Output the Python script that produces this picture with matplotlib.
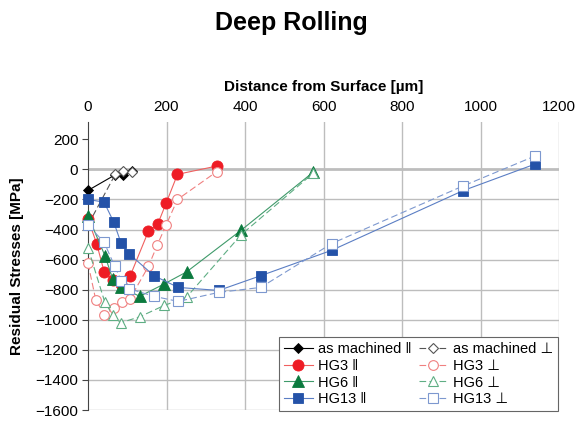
import matplotlib
matplotlib.use('Agg')
import matplotlib.pyplot as plt

plt.rcParams['font.family'] = ['Liberation Sans', 'DejaVu Sans']

# data (distance in um, stress in MPa)
am_par_x = [0, 70, 90, 113]
am_par_y = [-140, -35, -40, -12]
am_perp_x = [0, 70, 88, 113]
am_perp_y = [-370, -30, -8, -15]

hg3_par_x = [0, 22, 41, 63, 85, 107, 154, 178, 199, 228, 328]
hg3_par_y = [-330, -493, -680, -738, -765, -711, -411, -362, -225, -33, 22]
hg3_perp_x = [0, 20, 42, 65, 86, 107, 154, 177, 199, 228, 328]
hg3_perp_y = [-625, -870, -965, -925, -885, -860, -645, -500, -370, -200, -15]

hg6_x = [0, 43, 63, 83, 132, 194, 251, 390, 574]
hg6_par_y = [-310, -573, -729, -784, -844, -762, -682, -405, -18]
hg6_perp_y = [-522, -885, -967, -1020, -980, -905, -850, -435, -25]

hg13_par_x = [0, 41, 66, 84, 105, 168, 230, 333, 440, 621, 955, 1139]
hg13_par_y = [-200, -218, -353, -489, -562, -707, -785, -805, -707, -538, -142, 35]
hg13_perp_x = [0, 41, 68, 85, 104, 168, 230, 333, 440, 621, 955, 1139]
hg13_perp_y = [-370, -485, -644, -740, -793, -844, -878, -818, -785, -493, -111, 89]

x_ticks = [0, 200, 400, 600, 800, 1000, 1200]
y_ticks = list(range(-1600, 201, 200))

PAR = '\u2016'
PERP = '\u22a5'

fig = plt.figure(figsize=(5.82, 4.28), dpi=100)
ax = fig.add_axes([88 / 582, 1 - 410 / 428, (559 - 88) / 582, (410 - 122) / 428])

series = [
    (am_par_x, am_par_y, 'black', 'black', 'D', 5.5, '-', 'as machined ' + PAR),
    (am_perp_x, am_perp_y, '#555555', 'black', 'D', 5.5, '--', 'as machined ' + PERP),
    (hg3_par_x, hg3_par_y, '#f0605f', '#ee1c25', 'o', 8, '-', 'HG3 ' + PAR),
    (hg3_perp_x, hg3_perp_y, '#f08080', '#ee1c25', 'o', 7, '--', 'HG3 ' + PERP),
    (hg6_x, hg6_par_y, '#3f9a6a', '#0b7a3e', '^', 8, '-', 'HG6 ' + PAR),
    (hg6_x, hg6_perp_y, '#5fae84', '#0b7a3e', '^', 7, '--', 'HG6 ' + PERP),
    (hg13_par_x, hg13_par_y, '#5b7ec4', '#2452a8', 's', 7.5, '-', 'HG13 ' + PAR),
    (hg13_perp_x, hg13_perp_y, '#7d98cf', '#2452a8', 's', 7, '--', 'HG13 ' + PERP),
]

handles = []
for x, y, lc, mc, m, ms, ls, lab in series:
    hollow = ls == '--'
    h, = ax.plot(x, y, color=lc, lw=0.8, ls=ls, dashes=(6, 3) if hollow else (None, None),
                 marker=m, ms=ms, mfc='white' if hollow else mc,
                 mec=mc if not hollow else lc, mew=0.8 if hollow else 0.6,
                 label=lab, zorder=3, clip_on=False)
    handles.append(h)

ax.set_xlim(0, 1200)
ax.set_ylim(-1600, 315)
ax.set_xticks(x_ticks)
ax.set_yticks(y_ticks)
ax.xaxis.tick_top()
ax.xaxis.set_label_position('top')
ax.tick_params(axis='x', length=0, labelsize=11, pad=6)
ax.tick_params(axis='y', length=4, labelsize=11, color='#444444', pad=3)

ax.grid(True, color='#bdbdbd', lw=1.0, zorder=0)
ax.get_ygridlines()[-1].set_visible(False)
ax.get_ygridlines()[-2].set_linewidth(2.0)
ax.get_xgridlines()[0].set_visible(False)
for s in ['top', 'right', 'bottom']:
    ax.spines[s].set_visible(False)
ax.spines['left'].set_color('#444444')

ax.set_xlabel('Distance from Surface [\u00b5m]', fontsize=11, fontweight='bold', labelpad=6)
ax.set_ylabel('Residual Stresses [MPa]', fontsize=11, fontweight='bold', labelpad=8)
fig.suptitle('Deep Rolling', fontsize=18, fontweight='bold', y=0.975)

order = [0, 2, 4, 6, 1, 3, 5, 7]
leg = ax.legend([handles[i] for i in order], [handles[i].get_label() for i in order],
                ncol=2, loc='lower right', bbox_to_anchor=(0.997, -0.003), fontsize=10.5,
                frameon=True, fancybox=False, edgecolor='#666666', framealpha=1,
                borderpad=0.3, labelspacing=0.2, handlelength=2.0, handletextpad=0.35,
                columnspacing=0.5, borderaxespad=0)
leg.get_frame().set_linewidth(0.8)
leg.set_zorder(5)

fig.savefig('out.png', dpi=100)
